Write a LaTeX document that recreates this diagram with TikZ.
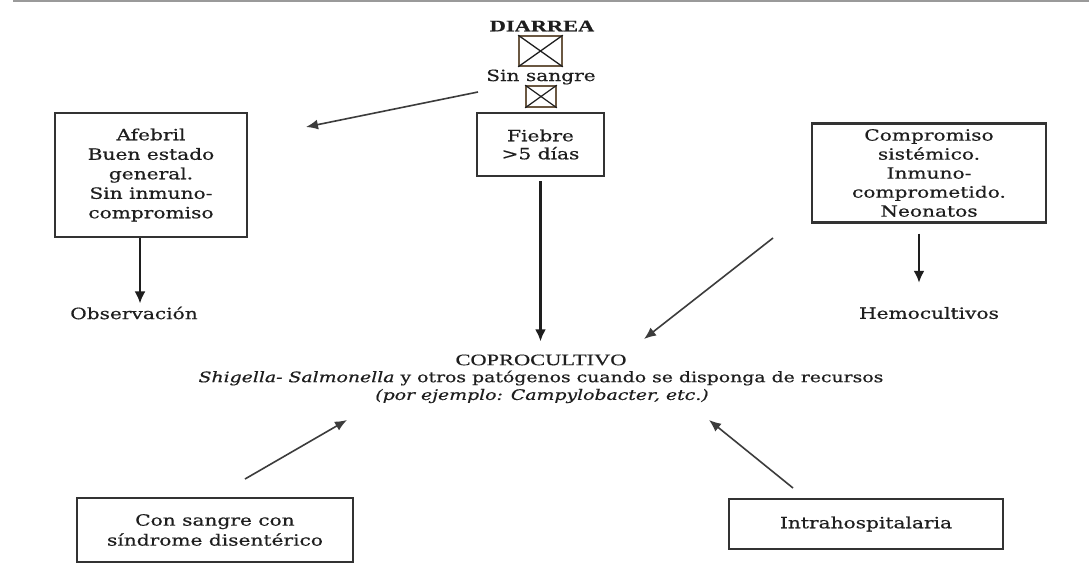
\documentclass[tikz,border=0pt]{standalone}
\usepackage{fontspec}
\setmainfont{DejaVu Serif}[FakeStretch=1.3, FakeBold=0.5]
\newfontfamily\headfont{Liberation Serif}[FakeStretch=1.4, FakeBold=0.4]
\usetikzlibrary{arrows.meta,calc}
\definecolor{ink}{HTML}{1e1e1e}
\definecolor{frame}{HTML}{333333}
\definecolor{crossframe}{HTML}{6b5842}
\definecolor{rulegray}{HTML}{9a9a9a}
\definecolor{diag}{HTML}{3c3c3c}
\begin{document}
\begin{tikzpicture}[x=1pt,y=-1pt,
  txt/.style={font=\fontsize{15.5}{19.5}\selectfont, text=ink, align=center, inner sep=0pt},
  box/.style={txt, draw=frame, line width=2.3pt},
  xbox/.style={draw=crossframe, line width=1.6pt, inner sep=0pt},
  vert/.style={draw=ink, line width=2.4pt, -{Latex[length=12pt,width=11pt]}},
  slant/.style={draw=diag, line width=1.6pt, -{Latex[length=12pt,width=10pt]}},
]
\useasboundingbox (0,0) rectangle (1089,568);
\fill[white] (0,0) rectangle (1089,568);
\draw[rulegray, line width=2pt] (13,1) -- (1089,1);

% top of the chart: diarrhoea without blood
\node[txt, font={\headfont\bfseries\fontsize{16}{18}\selectfont}] (diarrea) at (542,26) {DIARREA};
\node[xbox, minimum width=43pt, minimum height=30pt] (xa) at (540.5,51) {};
\draw[ink, line width=1.3pt] (xa.north west) -- (xa.south east) (xa.north east) -- (xa.south west);
\node[txt] (sinsangre) at (541,77) {Sin sangre};
\node[xbox, minimum width=30pt, minimum height=21pt] (xb) at (541,96.5) {};
\draw[ink, line width=1.2pt] (xb.north west) -- (xb.south east) (xb.north east) -- (xb.south west);

% criteria boxes
\node[box, minimum width=127pt, minimum height=63pt, font=\fontsize{15.5}{18}\selectfont] (fiebre) at (540.5,144.5) {Fiebre\\>5 días};
\node[box, minimum width=192pt, minimum height=124pt] (afeb) at (151,175) {Afebril\\Buen estado\\general.\\Sin inmuno-\\compromiso};
\node[box, minimum width=234pt, minimum height=99pt, font=\fontsize{15.5}{19}\selectfont] (comp) at (929,173) {Compromiso\\sistémico.\\Inmuno-\\comprometido.\\Neonatos};

% outcomes
\node[txt] (obs) at (134,313) {Observación};
\node[txt] (hemo) at (929,313) {Hemocultivos};
\node[txt, font={\headfont\fontsize{16}{18}\selectfont}] (copro) at (541,360) {COPROCULTIVO};
\node[txt, font=\fontsize{14.5}{18}\selectfont] (pat) at (541,378) {\textit{Shigella- Salmonella} y otros patógenos cuando se disponga de recursos};
\node[txt, font=\fontsize{14.5}{18}\selectfont] (ej) at (542,396) {\textit{(por ejemplo: Campylobacter, etc.)}};

% bottom boxes
\node[box, minimum width=276pt, minimum height=64pt, font=\fontsize{15.5}{20}\selectfont] (sangre) at (215,530) {Con sangre con\\síndrome disentérico};
\node[box, minimum width=274pt, minimum height=50pt] (intra) at (866,524) {Intrahospitalaria};

% free ends of the slanted arrows
\coordinate (s1) at (478,92);  \coordinate (s2) at (306,127);
\coordinate (c1) at (773,238); \coordinate (c2) at (644,339);
\coordinate (b1) at (245,479); \coordinate (b2) at (347,420);
\coordinate (i1) at (793,488); \coordinate (i2) at (709,420);

% vertical arrows
\draw[vert, shorten >=3pt] ([xshift=-11pt]afeb.south) -- ([xshift=-11pt]afeb.south |- obs.north);
\draw[vert, shorten >=13pt] ([yshift=-4pt]fiebre.south) -- (fiebre.south |- copro.north);
\draw[vert, shorten >=24pt] ([xshift=-10pt,yshift=-10pt]comp.south) -- ([xshift=-10pt]comp.south |- hemo.north);

% slanted arrows
\draw[slant] (s1) -- (s2);
\draw[slant] (c1) -- (c2);
\draw[slant] (b1) -- (b2);
\draw[slant] (i1) -- (i2);
\end{tikzpicture}
\end{document}
